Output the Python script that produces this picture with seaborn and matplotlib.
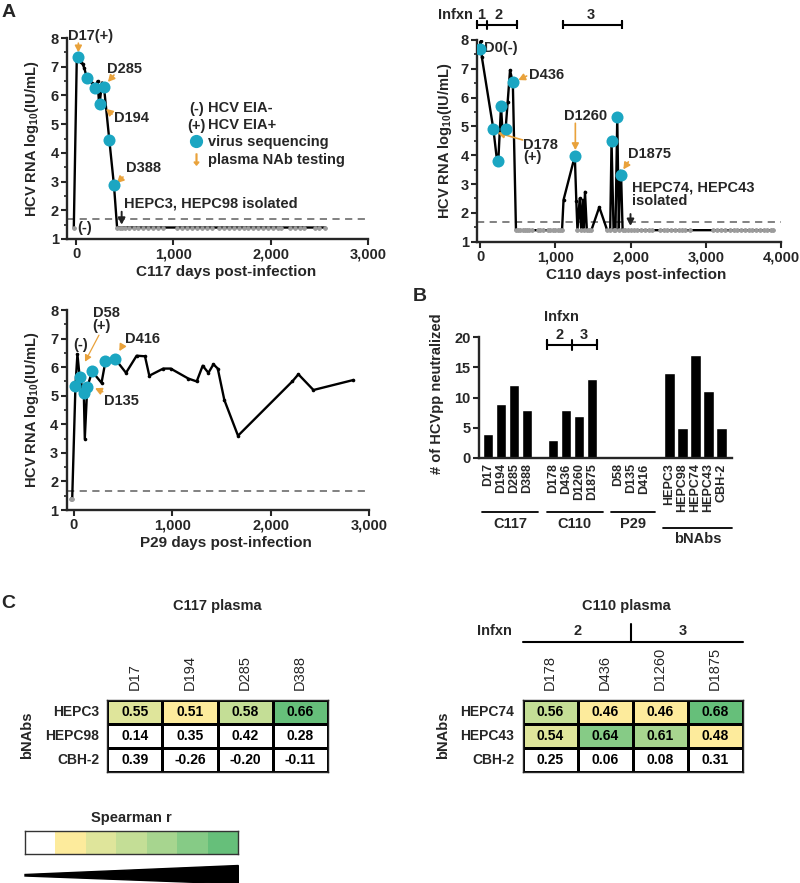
import numpy as np
import pandas as pd
import matplotlib
matplotlib.use("Agg")
import matplotlib.pyplot as plt
import seaborn as sns
from matplotlib.colors import ListedColormap
from matplotlib.lines import Line2D
from matplotlib.patches import Polygon
from matplotlib.text import Text
from matplotlib.legend_handler import HandlerBase
from matplotlib.ticker import MultipleLocator

# HCV RNA, log10 IU/mL. Undetectable samples are drawn at UNDETECTED.
UNDETECTED = 1.4
LOD = 1.68

c117_days = [5, 17, 45, 65, 83, 110, 160, 190, 220, 232, 240, 265, 285, 340, 388]
c117_rna = [7.2, 7.35, 7.15, 7.1, 6.95, 6.6, 6.45, 6.25, 6.5, 5.85, 5.7, 6.45, 6.3, 4.45, 2.87]
c117_seq = [17, 110, 190, 240, 285, 340, 388]
c117_neg = [-25, 420, 445, 470, 500, 540, 590, 640, 690, 740, 790, 840, 890,
            1040, 1090, 1140, 1190, 1240, 1290, 1340, 1400, 1470, 1520, 1570,
            1620, 1670, 1720, 1770, 1820, 1870, 1920, 1970, 2020, 2070, 2110,
            2200, 2250, 2300, 2340, 2450, 2500, 2560]

c110_days = [0, 8, 25, 178, 220, 243, 279, 300, 340, 368, 399, 436,
             1110, 1260, 1280, 1325, 1365, 1395, 1585, 1748, 1824, 1860, 1875]
c110_rna = [7.7, 7.95, 7.4, 4.9, 3.95, 3.8, 5.7, 4.8, 4.9, 5.86, 6.95, 6.53,
            2.45, 3.97, 2.4, 2.5, 2.45, 2.73, 2.2, 4.49, 5.32, 3.45, 3.31]
c110_seq = [0, 178, 243, 279, 340, 436, 1260, 1748, 1824, 1875]
c110_neg = [478, 505, 535, 565, 595, 625, 655, 685, 770, 800, 840, 905, 935,
            965, 1000, 1030, 1060, 1090, 1295, 1345, 1380, 1420, 1450, 1480,
            1690, 1730, 1775, 1800, 1845, 1895, 1930, 1965, 2000, 2040, 2090,
            2140, 2190, 2240, 2290, 2390, 2440, 2490, 2540, 2590, 2640, 2690,
            2720, 2790, 3100, 3150, 3200, 3250, 3320, 3370, 3420, 3470, 3520,
            3570, 3620, 3670, 3720, 3770, 3820, 3870, 3900]

p29_days = [15, 35, 58, 100, 110, 135, 185, 280, 320, 416, 529, 637, 722, 766,
            908, 983, 1163, 1248, 1309, 1367, 1418, 1462, 1529, 1668, 2220,
            2282, 2435, 2841]
p29_rna = [5.35, 6.45, 5.65, 5.1, 3.5, 5.3, 5.85, 5.45, 6.2, 6.3, 5.8, 6.4,
           6.38, 5.7, 5.95, 5.95, 5.6, 5.5, 6.05, 5.8, 6.1, 5.95, 4.85, 3.6,
           5.5, 5.75, 5.2, 5.55]
p29_seq = [15, 58, 100, 135, 185, 320, 416]
p29_neg = [-30, -18]

# panel B: number of HCVpp neutralized
b_groups = ["C117", "C110", "P29", "bNAbs"]
b_labels = [["D17", "D194", "D285", "D388"],
            ["D178", "D436", "D1260", "D1875"],
            ["D58", "D135", "D416"],
            ["HEPC3", "HEPC98", "HEPC74", "HEPC43", "CBH-2"]]
b_counts = [[4, 9, 12, 8], [3, 8, 7, 13], [0, 0, 0], [14, 5, 17, 11, 5]]

# panel C: Spearman r
c117_cols = ["D17", "D194", "D285", "D388"]
c117_rows = ["HEPC3", "HEPC98", "CBH-2"]
c117_r = [[0.55, 0.51, 0.58, 0.66],
          [0.14, 0.35, 0.42, 0.28],
          [0.39, -0.26, -0.20, -0.11]]
c110_cols = ["D178", "D436", "D1260", "D1875"]
c110_rows = ["HEPC74", "HEPC43", "CBH-2"]
c110_r = [[0.56, 0.46, 0.46, 0.68],
          [0.54, 0.64, 0.61, 0.48],
          [0.25, 0.06, 0.08, 0.31]]
r_bins = [0.45, 0.53, 0.555, 0.6, 0.625, 0.65]
r_colors = ["#FFFFFF", "#FDEB9C", "#DFE59B", "#C4DE96", "#A7D58F", "#86CB86", "#66BF7A"]

TEAL = "#1BA6C2"
ORANGE = "#E9A23B"
GREY = "#9C9C9C"

sns.set_theme(style="ticks")
plt.rcParams["font.family"] = ["Liberation Sans", "DejaVu Sans"]
plt.rcParams["font.weight"] = "bold"
plt.rcParams["axes.labelweight"] = "bold"
plt.rcParams["mathtext.fontset"] = "custom"
plt.rcParams["mathtext.bf"] = "Liberation Sans:bold"
plt.rcParams["mathtext.rm"] = "Liberation Sans:bold"
plt.rcParams["mathtext.default"] = "bf"

W, H = 800, 883
fig = plt.figure(figsize=(W / 100, H / 100), dpi=100)


def box(l, t, r, b):
    return fig.add_axes([l / W, 1 - b / H, (r - l) / W, (b - t) / H])


def fx(x):
    return x / W


def fy(y):
    return 1 - y / H


def bold_ticks(ax):
    for t in ax.get_xticklabels() + ax.get_yticklabels():
        t.set_fontweight("bold")


def viral_frame(days, rna, seq, neg):
    det = pd.DataFrame({"day": days, "rna": rna, "kind": "det"})
    und = pd.DataFrame({"day": neg, "rna": UNDETECTED, "kind": "und"})
    df = pd.concat([det, und]).sort_values("day", kind="stable").reset_index(drop=True)
    df["seq"] = df["day"].isin(seq) & (df["kind"] == "det")
    return df


def draw_viral(ax, df, xlim, xticks, xlabel, xlab_x, ylab_x):
    sns.lineplot(data=df, x="day", y="rna", sort=False, estimator=None,
                 color="black", linewidth=1.7, marker="o", markersize=2.6,
                 markeredgewidth=0, ax=ax)
    sns.scatterplot(data=df[df["kind"] == "und"], x="day", y="rna", color=GREY,
                    s=11, linewidth=0, ax=ax, zorder=3)
    sns.scatterplot(data=df[df["seq"]], x="day", y="rna", color=TEAL,
                    s=75, linewidth=0, ax=ax, zorder=4)
    ax.axhline(LOD, color="#777777", ls=(0, (4, 3)), lw=1.3, zorder=1)
    sns.despine(ax=ax)
    for s in ("left", "bottom"):
        ax.spines[s].set_linewidth(1.7)
    ax.set_xlim(*xlim)
    ax.set_ylim(1, 8)
    ax.set_yticks(range(1, 9))
    ax.yaxis.set_minor_locator(MultipleLocator(0.5))
    ax.set_xticks(xticks)
    ax.set_xticklabels([f"{t:,}" for t in xticks])
    ax.tick_params(which="major", length=4, width=1.5, labelsize=10.5, pad=2)
    ax.tick_params(which="minor", length=2.5, width=1.2)
    bold_ticks(ax)
    ax.set_xlabel(xlabel, fontsize=11)
    ax.set_ylabel("HCV RNA log$_{10}$(IU/mL)", fontsize=10.5)
    ax.xaxis.set_label_coords(xlab_x, -0.13)
    ax.yaxis.set_label_coords(ylab_x, 0.5)


def label(ax, x, y, s, ha="left", size=10.5, ls=0.95):
    ax.text(x, y, s, ha=ha, va="center", fontsize=size, weight="bold",
            clip_on=False, linespacing=ls)


def arrow(ax, tail, tip, color=ORANGE, lw=1.2):
    ax.annotate("", xy=tip, xytext=tail, annotation_clip=False,
                arrowprops=dict(arrowstyle="-|>,head_length=0.32,head_width=0.17",
                                color=color, lw=lw, shrinkA=0, shrinkB=0))


def bracket(ax, x0, x1, y, h, mid=None):
    xs = [x0, x0, x0, x1, x1, x1]
    ys = [y - h, y + h, y, y, y + h, y - h]
    ax.plot(xs, ys, color="black", lw=1.5, clip_on=False, solid_capstyle="butt")
    if mid is not None:
        ax.plot([mid, mid], [y - h, y + h], color="black", lw=1.5, clip_on=False)


class TextKey(HandlerBase):
    """legend key drawn as a short piece of text, e.g. (-)"""

    def __init__(self, s):
        super().__init__()
        self.s = s

    def create_artists(self, legend, orig_handle, xdescent, ydescent, width,
                       height, fontsize, trans):
        return [Text(width / 2 - xdescent, height / 2 - ydescent - 0.12 * fontsize,
                     self.s, ha="center", va="center", fontsize=fontsize,
                     fontweight="bold", transform=trans)]


# ---------------- A: C117 ----------------
axA1 = box(67, 38, 368, 239)
draw_viral(axA1, viral_frame(c117_days, c117_rna, c117_seq, c117_neg),
           (-95, 3000), [0, 1000, 2000, 3000], "C117 days post-infection", 0.527, -0.086)
label(axA1, -85, 8.07, "D17(+)")
arrow(axA1, (22, 7.82), (22, 7.5))
label(axA1, 316, 6.92, "D285")
arrow(axA1, (388, 6.71), (326, 6.47))
label(axA1, 388, 5.21, "D194")
arrow(axA1, (368, 5.35), (307, 5.53))
label(axA1, 512, 3.47, "D388")
arrow(axA1, (481, 3.16), (419, 2.95))
label(axA1, 11, 1.37, "(-)")
label(axA1, 494, 2.24, "HEPC3, HEPC98 isolated")
arrow(axA1, (467, 1.95), (467, 1.5), color="#222222", lw=1.4)

h_neg = Line2D([], [], ls="none")
h_pos = Line2D([], [], ls="none")
h_seq = Line2D([], [], ls="none", marker="o", color=TEAL, markersize=8.5)
h_nab = Line2D([], [], ls="none", marker=r"$\downarrow$", color=ORANGE, markersize=8)
axA1.legend([h_neg, h_pos, h_seq, h_nab],
            ["HCV EIA-", "HCV EIA+", "virus sequencing", "plasma NAb testing"],
            handler_map={h_neg: TextKey("(-)"), h_pos: TextKey("(+)")},
            loc="upper left", bbox_to_anchor=(fx(189), fy(101)), bbox_transform=fig.transFigure,
            frameon=False, prop={"size": 10.5, "weight": "bold"}, handlelength=1.0,
            handletextpad=0.3, labelspacing=0.22, borderpad=0, borderaxespad=0)

# ---------------- A: C110 ----------------
axA2 = box(477, 40, 781, 241.7)
draw_viral(axA2, viral_frame(c110_days, c110_rna, c110_seq, c110_neg),
           (-40, 4000), [0, 1000, 2000, 3000, 4000], "C110 days post-infection", 0.525, -0.076)
label(axA2, 57, 7.71, "D0(-)")
label(axA2, 655, 6.78, "D436")
arrow(axA2, (620, 6.75), (509, 6.61))
label(axA2, 576, 4.15, "D178\n(+)", ls=0.85)
arrow(axA2, (567, 4.53), (235, 4.78))
label(axA2, 1405, 5.36, "D1260", ha="center")
arrow(axA2, (1267, 5.11), (1267, 4.18))
label(axA2, 1963, 4.04, "D1875")
arrow(axA2, (1971, 3.77), (1905, 3.51))
label(axA2, 2025, 2.65, "HEPC74, HEPC43\nisolated", ls=1.0)
arrow(axA2, (2000, 1.96), (2000, 1.55), color="#222222", lw=1.4)
label(axA2, -321, 8.87, "Infxn", ha="center")
label(axA2, 13, 8.87, "1", ha="center")
label(axA2, 252, 8.87, "2", ha="center")
label(axA2, 1471, 8.87, "3", ha="center")
bracket(axA2, -44, 496, 8.52, 0.15, mid=97)
bracket(axA2, 1107, 1883, 8.52, 0.15)

# ---------------- A: P29 ----------------
axA3 = box(66.6, 310, 369, 510)
draw_viral(axA3, viral_frame(p29_days, p29_rna, p29_seq, p29_neg),
           (-75, 3000), [0, 1000, 2000, 3000], "P29 days post-infection", 0.527, -0.085)
label(axA3, 66, 6.77, "(-)", ha="center")
label(axA3, 190, 7.67, "D58\n(+)", ls=0.9)
arrow(axA3, (254, 7.12), (112, 6.19), lw=0.9)
label(axA3, 519, 6.97, "D416")
arrow(axA3, (491, 6.74), (461, 6.56))
label(axA3, 305, 4.81, "D135")
arrow(axA3, (292, 5.14), (214, 5.26))

# ---------------- B ----------------
axB = box(479, 337.3, 731.7, 457.7)
b_pos, b_flat, b_lab, spans = [], [], [], []
i = 0
for labs, counts in zip(b_labels, b_counts):
    idx = list(range(i, i + len(labs)))
    b_pos += idx
    b_flat += counts
    b_lab += labs
    spans.append((idx[0], idx[-1]))
    i += len(labs) + 1
bdf = pd.DataFrame({"pos": b_pos, "n": b_flat})
sns.barplot(data=bdf, x="pos", y="n", native_scale=True, color="black",
            width=0.8, errorbar=None, ax=axB)
sns.despine(ax=axB)
for s in ("left", "bottom"):
    axB.spines[s].set_linewidth(1.7)
axB.set_xlim(-0.72, 18.8)
axB.set_ylim(0, 20)
axB.set_yticks([0, 5, 10, 15, 20])
axB.set_xticks(b_pos)
axB.set_xticklabels(b_lab, rotation=90, fontsize=9)
axB.tick_params(axis="x", length=0, pad=4)
axB.tick_params(axis="y", length=4, width=1.5, labelsize=10.5, pad=2)
bold_ticks(axB)
axB.set_xlabel("")
axB.set_ylabel("# of HCVpp neutralized", fontsize=10.5)
axB.yaxis.set_label_coords(-0.14, 0.53)
for g, (a, b) in zip(b_groups, spans):
    y = -11.67 if g == "bNAbs" else -9.1
    x0, x1 = a - 0.5, b + 0.85
    axB.plot([x0, x1], [y, y], color="black", lw=1.3, clip_on=False)
    label(axB, (x0 + x1) / 2, y - 1.85, g, ha="center")
bracket(axB, 4.5, 8.4, 18.67, 0.8, mid=6.45)
label(axB, 5.48, 20.3, "2", ha="center")
label(axB, 7.34, 20.3, "3", ha="center")
label(axB, 5.64, 23.45, "Infxn", ha="center")

# ---------------- C ----------------
cmap = ListedColormap(r_colors)


def corr_map(ax, r, rows, cols):
    vals = np.array(r)
    sns.heatmap(np.digitize(vals, r_bins), ax=ax, cmap=cmap, vmin=-0.5, vmax=6.5,
                annot=vals, fmt=".2f", cbar=False, linewidths=1, linecolor="black",
                annot_kws=dict(size=10, weight="bold", color="black"),
                xticklabels=cols, yticklabels=rows)
    ax.xaxis.tick_top()
    ax.set_xticklabels(cols, rotation=90, fontsize=10.5, weight="normal")
    ax.set_yticklabels(rows, rotation=0, fontsize=10, weight="bold")
    ax.tick_params(axis="x", length=0, pad=7)
    ax.tick_params(axis="y", length=0, pad=6)
    for s in ax.spines.values():
        s.set_visible(True)
        s.set_linewidth(1)


axC1 = box(107.3, 700, 327.7, 771.7)
corr_map(axC1, c117_r, c117_rows, c117_cols)
axC2 = box(522.7, 700, 742.7, 771.7)
corr_map(axC2, c110_r, c110_rows, c110_cols)

fig.text(fx(217), fy(606), "C117 plasma", ha="center", va="center", fontsize=10.5)
fig.text(fx(626), fy(606), "C110 plasma", ha="center", va="center", fontsize=10.5)
fig.text(fx(27), fy(735), "bNAbs", rotation=90, ha="center", va="center", fontsize=10.5)
fig.text(fx(443), fy(735), "bNAbs", rotation=90, ha="center", va="center", fontsize=10.5)
fig.text(fx(511.7), fy(631), "Infxn", ha="right", va="center", fontsize=10.5)
fig.text(fx(578), fy(631), "2", ha="center", va="center", fontsize=10.5)
fig.text(fx(682.7), fy(631), "3", ha="center", va="center", fontsize=10.5)
fig.add_artist(Line2D([fx(523.3), fx(742.7)], [fy(641.7), fy(641.7)], color="black", lw=1.5))
fig.add_artist(Line2D([fx(630.7), fx(630.7)], [fy(624), fy(641.7)], color="black", lw=1.5))

# colour key
axK = box(25, 830.7, 238.3, 854)
sns.heatmap(np.arange(len(r_colors))[None, :], ax=axK, cmap=cmap, vmin=-0.5, vmax=6.5,
            cbar=False, xticklabels=False, yticklabels=False)
for s in axK.spines.values():
    s.set_visible(True)
    s.set_linewidth(1)
    s.set_color("#333333")
fig.text(fx(131.7), fy(818.3), "Spearman r", ha="center", va="center", fontsize=10.5)
fig.add_artist(Polygon([(fx(25), fy(874.5)), (fx(238.3), fy(865.5)), (fx(238.3), fy(884)),
                        (fx(25), fy(876))], closed=True, color="black",
                       transform=fig.transFigure))

# panel letters
for s, x, y in [("A", 8.5, 12.5), ("B", 419.5, 296.7), ("C", 8.5, 603)]:
    fig.text(fx(x), fy(y), s, ha="center", va="center", fontsize=14, weight="bold")

fig.savefig("out.png", dpi=100)
